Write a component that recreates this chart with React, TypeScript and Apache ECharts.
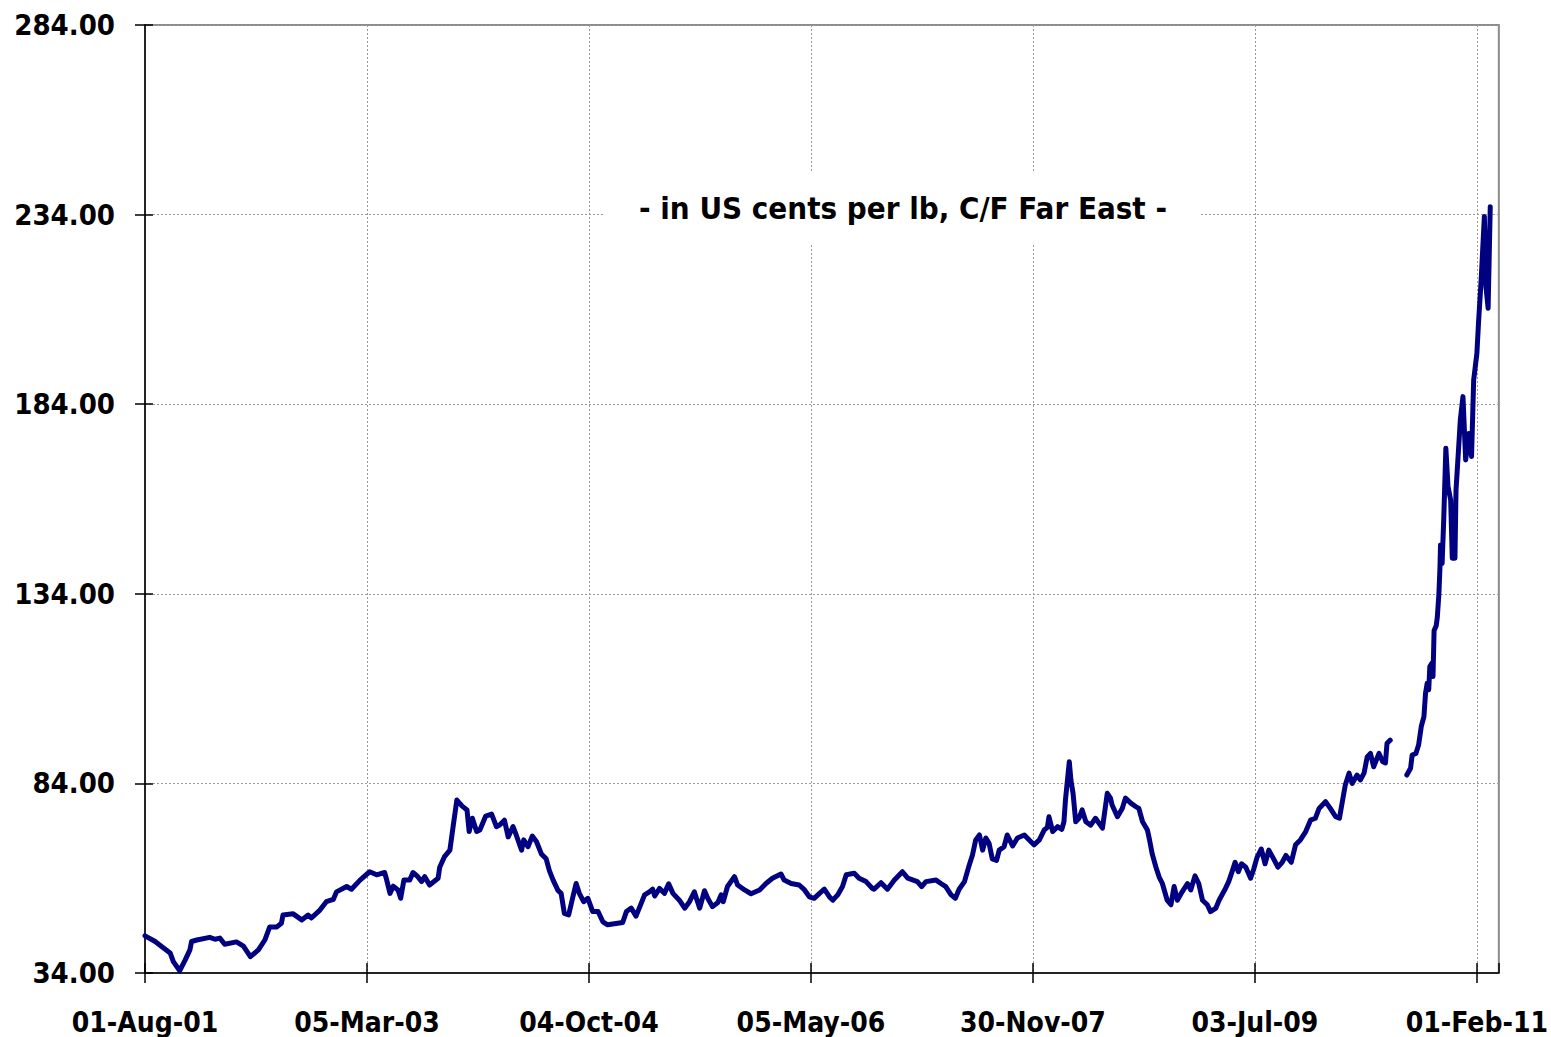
import React, { useEffect, useRef } from "react";
import * as echarts from "echarts";

// Trading-day index (0 = 01-Aug-01), ticks every 415 trading days
const tickLabels = ["01-Aug-01", "05-Mar-03", "04-Oct-04", "05-May-06", "30-Nov-07", "03-Jul-09", "01-Feb-11"];
const tickStep = 415;
const axisEnd = 2531;

const yTicks = [34, 84, 134, 184, 234, 284];

const dayIndex = [
  0, 19, 31, 47, 53, 65, 75, 84, 87, 97, 121, 131, 140, 149, 171, 184, 197, 212, 224, 233, 246, 255, 258, 277, 293, 305, 311, 327, 339, 352, 358, 377, 386, 402, 420, 433, 448,
  451, 458, 464, 473, 478, 484, 495, 501, 510, 517, 523, 532, 548, 551, 560, 570, 576, 583, 593, 602, 606, 612, 620, 626, 637, 648, 657, 663, 672, 679, 688, 694, 704, 708, 716, 724, 732, 741, 750, 756, 763, 772, 778, 784, 792, 800, 806, 812, 820, 828, 837, 847, 856, 865, 893, 900, 909, 918,
  934, 943, 949, 953, 962, 971, 979, 987, 999, 1009, 1018, 1027, 1037, 1046, 1052, 1061, 1071, 1077, 1081, 1089, 1102, 1108, 1121, 1133, 1149, 1161, 1173, 1189, 1195, 1208, 1223, 1233, 1242, 1251, 1261, 1270, 1280, 1286, 1295, 1304, 1311, 1326, 1335, 1348, 1360,
  1363, 1376, 1388, 1401, 1416, 1426, 1444, 1452, 1460, 1479, 1488, 1497, 1507, 1515, 1522, 1532, 1541,
  1547, 1553, 1560, 1566, 1572, 1578, 1584, 1592, 1597, 1606, 1612, 1622, 1631, 1644, 1653, 1662, 1672, 1681, 1687, 1690, 1697, 1706, 1714, 1718, 1721, 1728, 1731, 1735, 1740, 1746, 1752, 1759, 1768, 1777, 1790, 1799, 1805, 1808, 1818, 1827, 1833, 1843, 1852, 1858, 1865, 1874, 1878, 1883, 1890, 1896, 1902, 1911, 1918, 1924, 1930, 1939, 1949, 1955, 1963,
  1970, 1977, 1986, 1992, 2002, 2008, 2020, 2026, 2033, 2038, 2044, 2050, 2058, 2067, 2073, 2079, 2087, 2094, 2101, 2110, 2118, 2126, 2133, 2143, 2151, 2160, 2170, 2179, 2188, 2195, 2207, 2216, 2226, 2233, 2238, 2244, 2251, 2257, 2266, 2272, 2279, 2285, 2291, 2297, 2307, 2314, 2319, 2322, 2328,
  2340,
  2359, 2366, 2369, 2376, 2381, 2386, 2391, 2394, 2397, 2400, 2402, 2406, 2408, 2410, 2414, 2416, 2419, 2421, 2422, 2425, 2428, 2432, 2436, 2441, 2444, 2449, 2451, 2456, 2459, 2464, 2469, 2475, 2480, 2484, 2490, 2493, 2498, 2504, 2507, 2511, 2515,
];

const price: (number | null)[] = [
  43.8, 42.3, 41.0, 39.3, 37.0, 34.6, 37.4, 40.1, 42.3, 42.7, 43.4, 42.9, 43.2, 41.6, 42.2, 41.1, 38.3, 40.1, 42.7, 46.1, 46.1, 47.1, 49.3, 49.6, 48.0, 49.3, 48.5, 50.6, 52.8, 53.4, 55.4, 56.8, 56.1, 58.5, 60.7, 59.9, 60.5,
  59.0, 55.0, 56.9, 55.9, 53.7, 58.5, 58.5, 60.5, 59.4, 58.1, 59.4, 57.2, 59.0, 61.9, 64.7, 66.4, 72.6, 79.6, 78.0, 77.0, 71.3, 74.8, 71.3, 71.7, 75.4, 75.9, 72.6, 73.0, 74.3, 69.9, 72.6, 70.4, 66.4, 69.1, 67.3, 70.1, 68.6, 65.4, 64.1, 61.0, 58.5, 55.8, 55.0, 49.7, 49.3, 54.1, 57.6, 55.0, 52.8, 53.7, 50.2, 50.2, 47.5, 46.7, 47.3, 50.2, 51.1, 49.0,
  54.6, 55.4, 56.1, 54.3, 56.3, 55.0, 57.5, 55.0, 53.2, 51.1, 52.8, 55.4, 51.1, 55.7, 53.7, 51.5, 52.6, 54.6, 52.8, 56.8, 59.4, 57.2, 55.9, 54.9, 55.9, 57.6, 59.0, 60.1, 58.5, 57.6, 57.2, 55.9, 54.1, 53.7, 55.0, 56.1, 54.0, 53.2, 54.6, 56.8, 59.9, 60.3, 59.0, 58.1, 56.3,
  56.1, 57.8, 56.1, 58.5, 60.7, 59.0, 58.1, 56.8, 58.1, 58.5, 57.6, 56.8, 54.6, 53.7, 56.1, 58.1, 62.5,
  65.1, 69.1, 70.4, 66.4, 69.6, 68.2, 64.1, 63.7, 66.4, 67.3, 70.4, 67.5, 69.6, 70.4, 69.1, 67.8, 69.1, 71.7, 72.4, 75.2, 71.3, 72.6, 71.9, 73.9, 79.9, 89.7, 84.9, 81.4, 73.9, 74.8, 77.0, 73.9, 73.0, 74.8, 72.2, 81.4, 80.1, 78.3, 75.2, 77.4, 80.1, 78.8, 77.9, 77.4, 73.9, 71.7, 69.1, 65.4, 61.9, 59.3, 57.6, 53.2, 52.0, 56.8, 53.2, 55.4, 57.6, 55.9, 59.6,
  57.6, 53.2, 52.0, 50.2, 51.1, 53.2, 56.3, 58.1, 61.0, 63.2, 60.7, 62.8, 61.9, 59.0, 61.5, 64.5, 66.7, 62.8, 66.4, 64.1, 61.9, 63.2, 65.0, 63.2, 67.8, 69.1, 71.3, 74.3, 74.8, 77.4, 79.2, 77.4, 75.2, 74.8, 78.8, 83.6, 86.7, 84.0, 86.2, 84.9, 86.7, 91.0, 91.9, 88.4, 91.9, 89.7, 89.4, 94.6, 95.4,
  null,
  86.2, 88.0, 91.5, 91.9, 94.1, 99.0, 101.6, 107.8, 110.4, 108.7, 114.8, 115.7, 112.2, 124.3, 125.6, 127.8, 134.0, 141.0, 146.9, 142.0, 153.5, 172.4, 162.3, 158.7, 143.4, 143.4, 161.4, 172.8, 179.8, 186.0, 169.3, 176.3, 170.2, 190.4, 197.4, 205.3, 216.8, 233.5, 215.0, 209.3, 236.1,
];

const annotation = "- in US cents per lb, C/F Far East -";

const labelFont = "'DejaVu Sans Condensed', 'DejaVu Sans', sans-serif";

export default function App() {
  const ref = useRef<HTMLDivElement>(null);
  useEffect(() => {
    if (!ref.current) return;
    const chart = echarts.init(ref.current, undefined, { renderer: "svg" });
    const data = dayIndex.map((d, i) => [d, price[i] === null ? "-" : price[i]]);
    const xBase = {
      type: "value" as const,
      min: 0,
      max: axisEnd,
      interval: tickStep,
    };
    const yBase = {
      type: "value" as const,
      min: yTicks[0],
      max: yTicks[yTicks.length - 1],
      interval: yTicks[1] - yTicks[0],
    };
    chart.setOption({
      animation: false,
      backgroundColor: "#ffffff",
      grid: {
        left: 145,
        right: 51,
        top: 25,
        bottom: 64,
        show: true,
        borderColor: "#8c8c8c",
        borderWidth: 2,
        backgroundColor: "transparent",
      },
      xAxis: [
        {
          ...xBase,
          position: "bottom",
          axisLine: { show: true, onZero: false, lineStyle: { color: "#000", width: 1.5 } },
          axisTick: { show: true, inside: false, length: 10, lineStyle: { color: "#000", width: 1.5 } },
          axisLabel: {
            show: true,
            margin: 35,
            color: "#000",
            fontFamily: labelFont,
            fontWeight: "bold",
            fontSize: 28,
            showMaxLabel: false,
            formatter: (v: number) => {
              const k = Math.round(v / tickStep);
              return Math.abs(v - k * tickStep) < 1e-6 && tickLabels[k] ? tickLabels[k] : "";
            },
          },
          splitLine: { show: true, lineStyle: { color: "#9a9a9a", type: [2, 2], width: 1 } },
        },
        {
          ...xBase,
          position: "bottom",
          axisLine: { show: false },
          axisTick: { show: true, inside: true, length: 10, lineStyle: { color: "#000", width: 1.5 } },
          axisLabel: { show: false },
          splitLine: { show: false },
        },
      ],
      yAxis: [
        {
          ...yBase,
          position: "left",
          axisLine: { show: true, onZero: false, lineStyle: { color: "#000", width: 1.5 } },
          axisTick: { show: true, inside: false, length: 10, lineStyle: { color: "#000", width: 1.5 } },
          axisLabel: {
            show: true,
            margin: 30,
            color: "#000",
            fontFamily: labelFont,
            fontWeight: "bold",
            fontSize: 29,
            formatter: (v: number) => v.toFixed(2),
          },
          splitLine: { show: true, lineStyle: { color: "#9a9a9a", type: [2, 2], width: 1 } },
        },
        {
          ...yBase,
          position: "left",
          axisLine: { show: false },
          axisTick: { show: true, inside: true, length: 8, lineStyle: { color: "#000", width: 1.5 } },
          axisLabel: { show: false },
          splitLine: { show: false },
        },
      ],
      graphic: [
        {
          type: "rect",
          shape: { x: 603, y: 172, width: 597, height: 72 },
          style: { fill: "#ffffff" },
          z: 10,
        },
        {
          type: "text",
          x: 903,
          y: 208,
          style: {
            text: annotation,
            fill: "#000",
            font: `bold 31px ${labelFont}`,
            textAlign: "center",
            textVerticalAlign: "middle",
          },
          z: 11,
        },
      ],
      series: [
        {
          type: "line",
          xAxisIndex: 0,
          yAxisIndex: 0,
          data,
          showSymbol: false,
          connectNulls: false,
          lineStyle: { color: "#000080", width: 5, join: "round", cap: "round" },
          itemStyle: { color: "#000080" },
          z: 20,
        },
      ],
    });
    return () => chart.dispose();
  }, []);
  return <div ref={ref} style={{ width: 1551, height: 1037, position: "absolute", left: 0, top: 0 }} />;
}
